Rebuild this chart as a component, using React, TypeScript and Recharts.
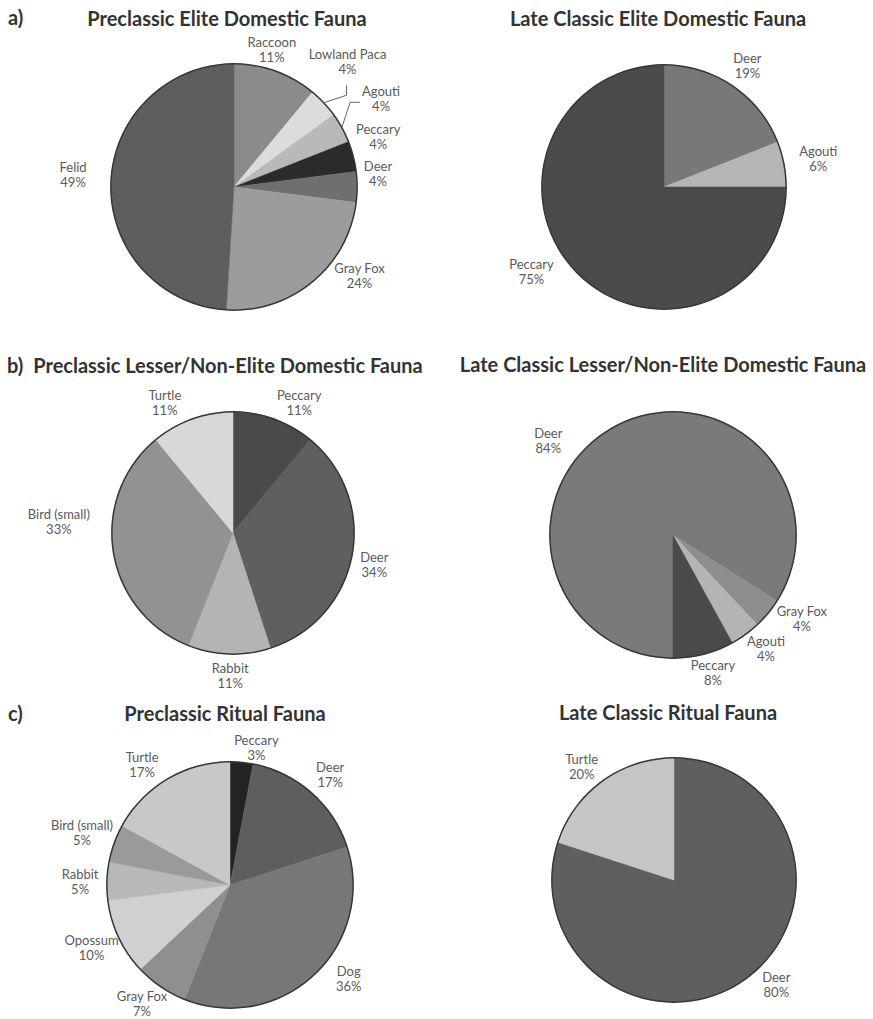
import React from "react";
import { PieChart, Pie, Cell } from "recharts";

// a) elite domestic fauna
const preEliteNames = ["Raccoon", "Lowland Paca", "Agouti", "Peccary", "Deer", "Gray Fox", "Felid"];
const preEliteValues = [11, 4, 4, 4, 4, 24, 49];
const lateEliteNames = ["Deer", "Agouti", "Peccary"];
const lateEliteValues = [19, 6, 75];

// b) lesser / non-elite domestic fauna
const preLesserNames = ["Peccary", "Deer", "Rabbit", "Bird (small)", "Turtle"];
const preLesserValues = [11, 34, 11, 33, 11];
const lateLesserNames = ["Deer", "Gray Fox", "Agouti", "Peccary"];
const lateLesserValues = [84, 4, 4, 8];

// c) ritual fauna
const preRitualNames = ["Peccary", "Deer", "Dog", "Gray Fox", "Opossum", "Rabbit", "Bird (small)", "Turtle"];
const preRitualValues = [3, 17, 36, 7, 10, 5, 5, 17];
const lateRitualNames = ["Deer", "Turtle"];
const lateRitualValues = [80, 20];

const preEliteColors = ["#8b8b8d", "#dcdcdc", "#b9b9bb", "#2b2b2b", "#6f6f71", "#9c9c9e", "#5e5e60"];
const lateEliteColors = ["#78787a", "#b5b5b7", "#4b4b4d"];
const preLesserColors = ["#4a4a4c", "#5f5f61", "#b4b4b6", "#929294", "#d8d8d8"];
const lateLesserColors = ["#7a7a7c", "#8e8e90", "#b4b4b6", "#4a4a4c"];
const preRitualColors = ["#232323", "#5e5e60", "#77777a", "#8f8f91", "#d0d0d0", "#b8b8ba", "#9a9a9c", "#c8c8ca"];
const lateRitualColors = ["#5f5f61", "#c6c6c8"];

const toRows = (names: string[], values: number[]) =>
  names.map((name, i) => ({ name, value: values[i] }));

type Nudge = Record<string, [number, number]>;

const RAD = Math.PI / 180;
const FONT = "Lato, 'Open Sans', sans-serif";

const makeLabel = (nudge: Nudge, leaders: Record<string, string>) => (p: any) => {
  const a = -p.midAngle * RAD;
  const d = p.outerRadius + 30;
  const [dx, dy] = nudge[p.name] ?? [0, 0];
  const x = p.cx + d * Math.cos(a) + dx;
  const y = p.cy + d * Math.sin(a) + dy;
  const ex = p.cx + p.outerRadius * Math.cos(a);
  const ey = p.cy + p.outerRadius * Math.sin(a);
  let points = "";
  if (leaders[p.name] === "below") points = `${ex},${ey} ${x - 1},${y + 34} ${x - 1},${y + 24}`;
  if (leaders[p.name] === "left") points = `${ex},${ey} ${x - 31},${y + 4} ${x - 21},${y + 4}`;
  return (
    <g key={`lbl-${p.name}`}>
      {points && <polyline points={points} fill="none" stroke="#666" strokeWidth={1} />}
      <text x={x} y={y} textAnchor="middle" fontFamily={FONT} fontSize={13} fill="#5a5a5a">
        <tspan x={x} dy={-2.5}>{p.name}</tspan>
        <tspan x={x} dy={15}>{p.value}%</tspan>
      </text>
    </g>
  );
};

interface PanelProps {
  left: number;
  top: number;
  names: string[];
  values: number[];
  colors: string[];
  cx: number;
  cy: number;
  r: number;
  startAngle?: number;
  nudge: Nudge;
  leaders?: Record<string, string>;
}

function FaunaPie({ left, top, names, values, colors, cx, cy, r, startAngle = 90, nudge, leaders = {} }: PanelProps) {
  const rows = toRows(names, values);
  return (
    <div style={{ position: "absolute", left, top }}>
      <PieChart width={436} height={360}>
        <Pie
          data={rows}
          dataKey="value"
          nameKey="name"
          cx={cx}
          cy={cy}
          outerRadius={r}
          startAngle={startAngle}
          endAngle={startAngle - 360}
          label={makeLabel(nudge, leaders)}
          labelLine={false}
          isAnimationActive={false}
        >
          {rows.map((row, i) => (
            <Cell key={row.name} fill={colors[i]} stroke={colors[i]} strokeWidth={0.5} />
          ))}
        </Pie>
        {/* thin dark rim round the whole pie */}
        <Pie
          data={[{ name: "rim", value: 1 }]}
          dataKey="value"
          cx={cx}
          cy={cy}
          innerRadius={r - 0.6}
          outerRadius={r + 0.9}
          fill="#363636"
          stroke="none"
          isAnimationActive={false}
        />
      </PieChart>
    </div>
  );
}

const titleStyle: React.CSSProperties = {
  position: "absolute",
  width: 460,
  textAlign: "center",
  fontFamily: FONT,
  fontWeight: 700,
  fontSize: 20,
  lineHeight: "24px",
  color: "#333",
  whiteSpace: "nowrap",
};

const Title = ({ x, y, text }: { x: number; y: number; text: string }) => (
  <div style={{ ...titleStyle, left: x - 230, top: y - 12 }}>{text}</div>
);

const Tag = ({ x, y, text }: { x: number; y: number; text: string }) => (
  <div style={{ ...titleStyle, width: "auto", textAlign: "left", left: x, top: y - 12 }}>{text}</div>
);

export default function App() {
  return (
    <div style={{ position: "absolute", left: 0, top: 0, width: 873, height: 1019, background: "#fff", overflow: "hidden" }}>
      <Tag x={8} y={17} text="a)" />
      <Title x={227} y={18} text="Preclassic Elite Domestic Fauna" />
      <Title x={658} y={18} text="Late Classic Elite Domestic Fauna" />
      <Tag x={7} y={365} text="b)" />
      <Title x={228} y={365} text="Preclassic Lesser/Non-Elite Domestic Fauna" />
      <Title x={663} y={364} text="Late Classic Lesser/Non-Elite Domestic Fauna" />
      <Tag x={8} y={713} text="c)" />
      <Title x={225} y={713} text="Preclassic Ritual Fauna" />
      <Title x={668} y={712} text="Late Classic Ritual Fauna" />

      <FaunaPie
        left={0}
        top={0}
        names={preEliteNames}
        values={preEliteValues}
        colors={preEliteColors}
        cx={229}
        cy={182}
        r={123}
        nudge={{
          Raccoon: [-14, 6],
          "Lowland Paca": [2, -21],
          Agouti: [13, -15],
          Peccary: [-4, -12],
          Deer: [-9, -14],
          "Gray Fox": [28, -29],
          Felid: [-8, -8],
        }}
        leaders={{ "Lowland Paca": "below", Agouti: "left" }}
      />
      <FaunaPie
        left={436}
        top={0}
        names={lateEliteNames}
        values={lateEliteValues}
        colors={lateEliteColors}
        cx={223}
        cy={182}
        r={122}
        nudge={{ Deer: [-2, 4], Agouti: [5, 0], Peccary: [-25, -23] }}
      />
      <FaunaPie
        left={0}
        top={340}
        names={preLesserNames}
        values={preLesserValues}
        colors={preLesserColors}
        cx={228}
        cy={188}
        r={121}
        nudge={{
          Peccary: [15, 12],
          Deer: [-7, 3],
          Rabbit: [2, -8],
          "Bird (small)": [-25, -35],
          Turtle: [-17, 12],
        }}
      />
      <FaunaPie
        left={436}
        top={340}
        names={lateLesserNames}
        values={lateLesserValues}
        colors={lateLesserColors}
        cx={232}
        cy={190}
        r={123}
        startAngle={-90}
        nudge={{ Deer: [-51, 40], "Gray Fox": [11, -14], Agouti: [3, -10], Peccary: [2, -11] }}
      />
      <FaunaPie
        left={0}
        top={680}
        names={preRitualNames}
        values={preRitualValues}
        colors={preRitualColors}
        cx={225}
        cy={200}
        r={123}
        nudge={{
          Peccary: [12, 15],
          Deer: [-1, 4],
          Dog: [14, -18],
          "Gray Fox": [-2, -8],
          Opossum: [0, -3],
          Rabbit: [3, 1],
          "Bird (small)": [-4, -1],
          Turtle: [-10, 11],
        }}
      />
      <FaunaPie
        left={436}
        top={680}
        names={lateRitualNames}
        values={lateRitualValues}
        colors={lateRitualColors}
        cx={233}
        cy={195}
        r={122}
        nudge={{ Deer: [13, -18], Turtle: [-3, 9] }}
      />
    </div>
  );
}
